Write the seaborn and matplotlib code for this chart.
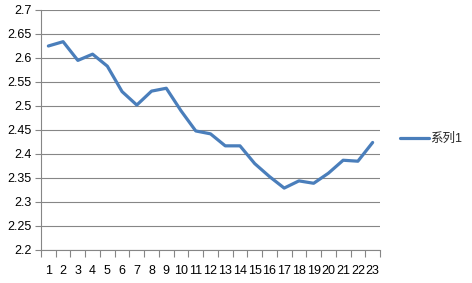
import matplotlib
matplotlib.use("Agg")
import matplotlib.pyplot as plt
import seaborn as sns
import pandas as pd
from matplotlib.ticker import FixedLocator

categories = [str(i) for i in range(1, 24)]
values = [2.625, 2.634, 2.595, 2.608, 2.583, 2.530, 2.502, 2.531, 2.537, 2.490,
          2.448, 2.442, 2.417, 2.417, 2.380, 2.353, 2.329, 2.344, 2.339, 2.360,
          2.387, 2.385, 2.424]
series_name = "系列1"
y_ticks = [2.2, 2.25, 2.3, 2.35, 2.4, 2.45, 2.5, 2.55, 2.6, 2.65, 2.7]

sns.set_theme(style="white")
plt.rcParams['font.family'] = ['Liberation Sans', 'Noto Sans CJK SC', 'DejaVu Sans']

df = pd.DataFrame({"x": range(len(categories)), "y": values, "s": series_name})

fig = plt.figure(figsize=(4.72, 2.83), dpi=100)
ax = fig.add_axes([41/472, 33/283, 339/472, 240/283])
sns.lineplot(data=df, x="x", y="y", hue="s", palette=["#4A7EBB"], linewidth=2.3, ax=ax, legend=True)

ax.set_xlim(-0.5, len(categories) - 0.5)
ax.set_ylim(2.2, 2.7)
ax.set_yticks(y_ticks)
ax.set_yticklabels([f"{v:g}" for v in y_ticks])
ax.set_xticks(range(len(categories)))
ax.set_xticklabels(categories)
ax.xaxis.set_minor_locator(FixedLocator([i - 0.5 for i in range(len(categories) + 1)]))
ax.tick_params(axis='x', which='major', length=0, pad=11, labelsize=9, labelcolor='black')
ax.tick_params(axis='x', which='minor', length=5, width=0.8, color='#868686', bottom=True)
ax.tick_params(axis='y', which='major', length=4, width=0.8, color='#868686', left=True,
               labelsize=9, labelcolor='black', pad=3)
ax.grid(axis='y', color='#868686', linewidth=0.8)
ax.set_axisbelow(True)
for side in ['top', 'right']:
    ax.spines[side].set_visible(False)
for side in ['left', 'bottom']:
    ax.spines[side].set_color('#868686')
    ax.spines[side].set_linewidth(0.8)
ax.set_xlabel("")
ax.set_ylabel("")

leg = ax.legend(loc='center left', bbox_to_anchor=(1 + 20/339, 111/240), frameon=False,
                borderaxespad=0, borderpad=0,
                handlelength=2.3, handletextpad=0.1, fontsize=9)

fig.savefig("out.png", dpi=100)
